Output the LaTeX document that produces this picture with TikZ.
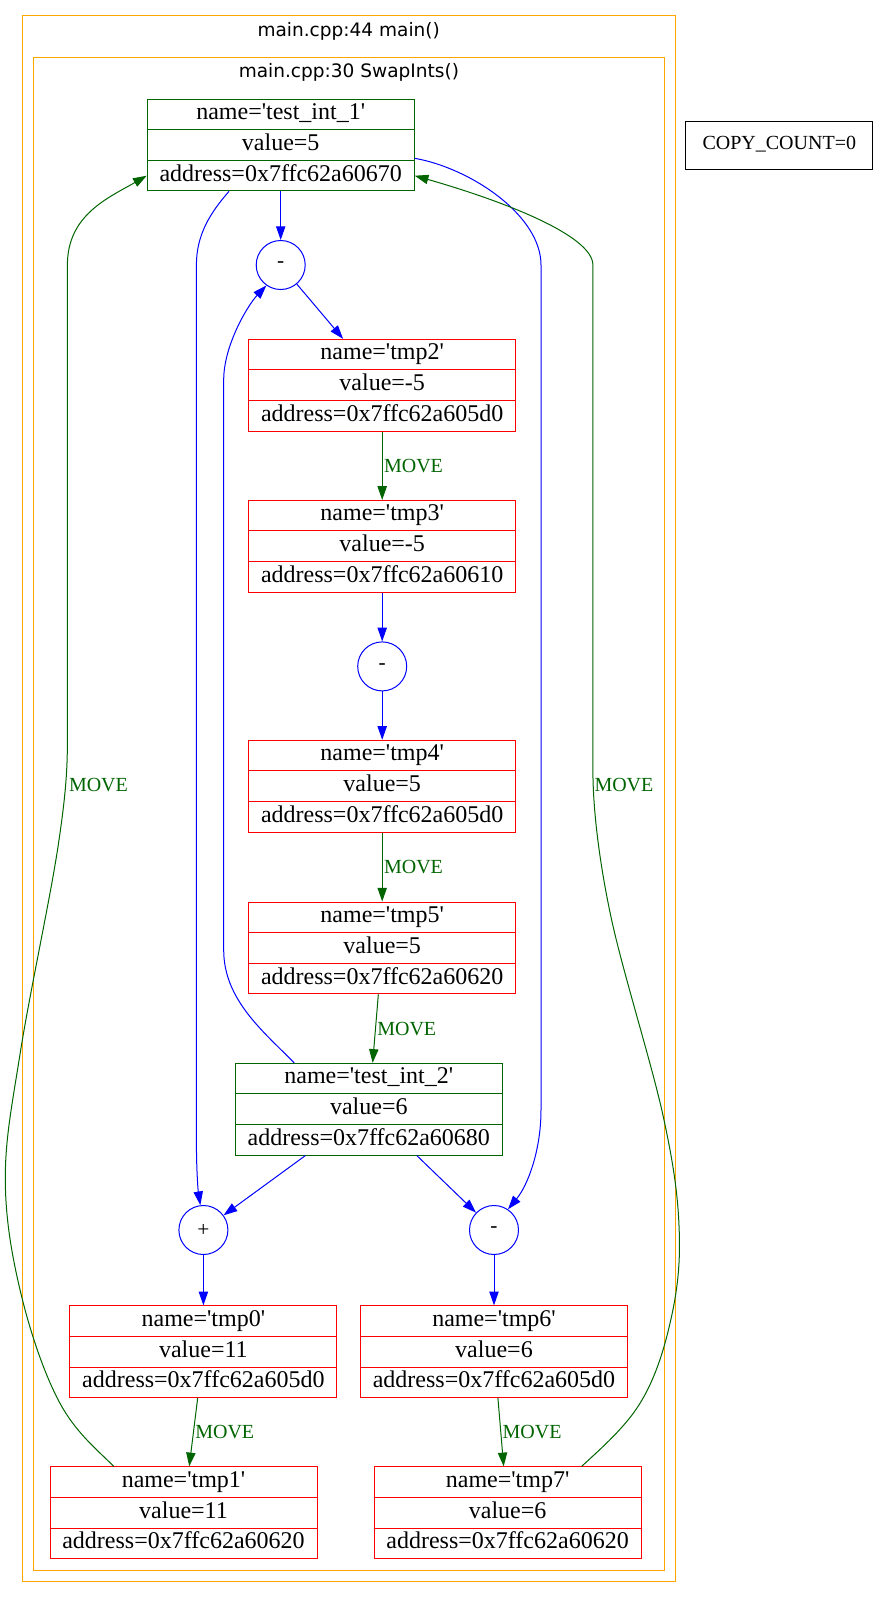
\documentclass[tikz,border=0pt]{standalone}
\usepackage{fontspec}
\setmainfont{Liberation Serif}
\newfontfamily\clusterfont{DejaVu Sans}
\usetikzlibrary{calc,arrows.meta}

\definecolor{gvgreen}{HTML}{006400}
\definecolor{gvorange}{HTML}{FFA500}
\definecolor{gvblue}{HTML}{0000FF}
\definecolor{gvred}{HTML}{FF0000}

\tikzset{
  recframe/.style={draw, line width=0.75pt, minimum width=200.25pt, minimum height=68.8pt, inner sep=0pt},
  rowtext/.style={inner sep=0pt, font=\fontsize{18}{21}\selectfont, text height=12pt, text depth=4pt},
  opnode/.style={circle, draw=gvblue, line width=0.75pt, minimum size=36.75pt, inner sep=0pt,
                 font=\fontsize{16}{19}\selectfont},
  tip/.style={-{Triangle[length=10.3pt,width=7pt]}},
  opedge/.style={draw=gvblue, line width=0.75pt, tip},
  moveedge/.style={draw=gvgreen, line width=0.75pt, tip},
  movelabel/.style={text=gvgreen, font=\fontsize{15}{18}\selectfont, inner sep=1pt,
                    text height=10pt, text depth=0pt},
  cluster/.style={draw=gvorange, line width=0.75pt},
  clusterlabel/.style={font=\clusterfont\fontsize{13.9}{16}\selectfont, anchor=base, inner sep=0pt}
}

% record node: name, position, colour, three rows
\newcommand{\recnode}[6]{%
  \node[recframe, draw=#3] (#1) at (#2) {};
  \draw[#3, line width=0.75pt] ($(#1.north west)!1/3!(#1.south west)$) -- ($(#1.north east)!1/3!(#1.south east)$);
  \draw[#3, line width=0.75pt] ($(#1.north west)!2/3!(#1.south west)$) -- ($(#1.north east)!2/3!(#1.south east)$);
  \node[rowtext] (#1-name) at ($(#1.north)!1/6!(#1.south)$) {#4};
  \node[rowtext] (#1-value) at (#1.center) {#5};
  \node[rowtext] (#1-addr) at ($(#1.north)!5/6!(#1.south)$) {#6};
}
\newcommand{\sq}{\textquotesingle}

\begin{document}
\begin{tikzpicture}[x=0.75pt, y=-0.75pt]
\useasboundingbox (0,0) rectangle (878,1597);

% clusters
\draw[cluster] (22,15.7) rectangle (675.3,1581);
\node[clusterlabel] (mainlbl) at (348.7,36) {main.cpp:44 main()};
\draw[cluster] (33,57.3) rectangle (664.8,1570);
\node[clusterlabel] (swaplbl) at (348.9,77.3) {main.cpp:30 SwapInts()};

% counter
\node[draw, line width=0.75pt, minimum width=140pt, minimum height=36pt, inner sep=0pt,
      font=\fontsize{15}{18}\selectfont, text height=10pt, text depth=3.3pt]
      (copycount) at (779.3,145.2) {COPY\_COUNT=0};

% variables
\recnode{t1}{280.7,145}{gvgreen}{name=\sq test\_int\_1\sq}{value=5}{address=0x7ffc62a60670}
\recnode{tmp2}{382.2,385.2}{gvred}{name=\sq tmp2\sq}{value=-5}{address=0x7ffc62a605d0}
\recnode{tmp3}{382.2,546.3}{gvred}{name=\sq tmp3\sq}{value=-5}{address=0x7ffc62a60610}
\recnode{tmp4}{382.2,786.2}{gvred}{name=\sq tmp4\sq}{value=5}{address=0x7ffc62a605d0}
\recnode{tmp5}{382.2,947.9}{gvred}{name=\sq tmp5\sq}{value=5}{address=0x7ffc62a60620}
\recnode{t2}{368.8,1109.2}{gvgreen}{name=\sq test\_int\_2\sq}{value=6}{address=0x7ffc62a60680}
\recnode{tmp0}{203.4,1351.7}{gvred}{name=\sq tmp0\sq}{value=11}{address=0x7ffc62a605d0}
\recnode{tmp6}{494,1351.7}{gvred}{name=\sq tmp6\sq}{value=6}{address=0x7ffc62a605d0}
\recnode{tmp1}{183.5,1512.7}{gvred}{name=\sq tmp1\sq}{value=11}{address=0x7ffc62a60620}
\recnode{tmp7}{507.6,1512.7}{gvred}{name=\sq tmp7\sq}{value=6}{address=0x7ffc62a60620}

% operators
\node[opnode] (m1) at (280.7,265) {-};
\node[opnode] (m2) at (382.2,666.4) {-};
\node[opnode] (plus) at (203.4,1230) {+};
\node[opnode] (m3) at (494,1230) {-};

% straight connectors
\draw[opedge] (t1) -- (m1);
\draw[opedge] (m1) -- (tmp2);
\draw[moveedge] (tmp2) -- node[movelabel, right] (lbl23) {MOVE} (tmp3);
\draw[opedge] (tmp3) -- (m2);
\draw[opedge] (m2) -- (tmp4);
\draw[moveedge] (tmp4) -- node[movelabel, right] (lbl45) {MOVE} (tmp5);
\draw[moveedge] (tmp5) -- node[movelabel, right] (lbl5t) {MOVE} (t2);
\draw[opedge] (t2) -- (plus);
\draw[opedge] (t2) -- (m3);
\draw[opedge] (plus) -- (tmp0);
\draw[opedge] (m3) -- (tmp6);
\draw[moveedge] (tmp0) -- node[movelabel, right] (lbl01) {MOVE} (tmp1);
\draw[moveedge] (tmp6) -- node[movelabel, right] (lbl67) {MOVE} (tmp7);

% routed connectors
\draw[opedge] ($(t1.south)+(-51.7,0)$) .. controls (210,213) and (196.4,235) .. (196.4,265)
  -- (196.4,1140) .. controls (196.4,1170) and (198,1190) .. (plus.97);
\draw[opedge] ($(t1.east)+(0,13.3)$) .. controls (470,168) and (541,215) .. (541,265)
  -- (541,1110) .. controls (541,1150) and (528,1185) .. (m3.56);
\draw[opedge] ($(t2.north)+(-74.6,0)$) .. controls (264,1032) and (223.7,1000) .. (223.7,950)
  -- (223.7,380) .. controls (223.7,345) and (248,305) .. (m1.235);

% the two long moves back into test_int_1
\draw[moveedge] ($(tmp1.north)+(-69.7,0)$)
  .. controls (94.7,1447.6) and (75.4,1431.6) .. (60,1403.3)
  .. controls (44.7,1375) and (30.8,1333.9) .. (21.7,1296.7)
  .. controls (12.6,1259.5) and (5.5,1221.1) .. (5.3,1180)
  .. controls (5.1,1138.9) and (11.9,1105.6) .. (20.7,1050)
  .. controls (29.5,994.5) and (50.2,898.4) .. (58,846.7)
  .. controls (65.8,795) and (67.4,770) .. (67.4,740)
  -- (67.4,265) .. controls (67.4,215) and (108,198) .. ($(t1.west)+(0,30.7)$);
\node[movelabel, anchor=west] (lblleft) at (67.4,785) {MOVE};

\draw[moveedge] ($(tmp7.north)+(74.1,0)$)
  .. controls (601.3,1448.2) and (625.3,1427.2) .. (640,1403.3)
  .. controls (654.7,1379.4) and (663.5,1351.6) .. (670,1323.3)
  .. controls (676.6,1295) and (680.4,1267.7) .. (679.3,1233.3)
  .. controls (678.2,1198.9) and (674.7,1169.4) .. (663.3,1116.7)
  .. controls (651.9,1064) and (622.6,971.5) .. (611,917)
  .. controls (599.4,862.6) and (592.9,810) .. (592.9,770)
  -- (592.9,265) .. controls (592.9,235) and (500,200) .. ($(t1.east)+(0,30.7)$);
\node[movelabel, anchor=west] (lblright) at (592.9,785) {MOVE};
\end{tikzpicture}
\end{document}
